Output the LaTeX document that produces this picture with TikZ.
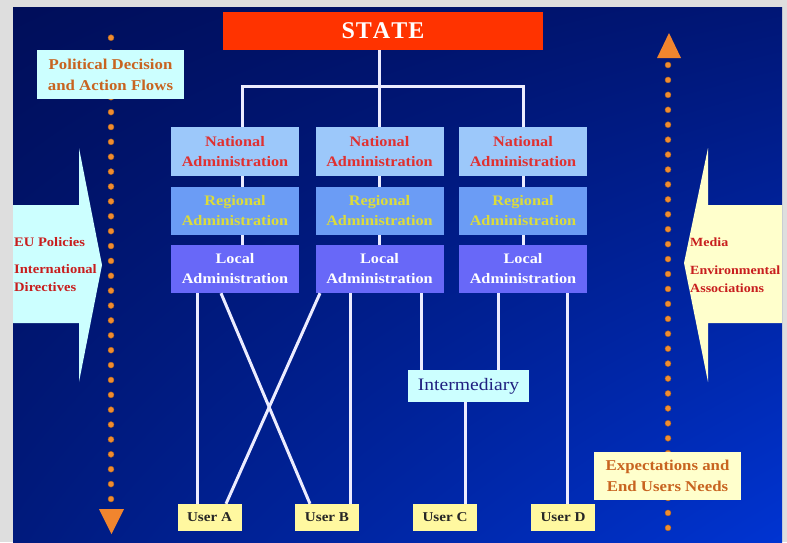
\documentclass[tikz,border=0pt]{standalone}
\usepackage{fontspec}
\setmainfont{Liberation Serif}[FakeStretch=1.12]
\newfontfamily\plainserif{Liberation Serif}
\usetikzlibrary{calc,shadings}
\definecolor{pagegray}{HTML}{DEDEDE}
\definecolor{bgUL}{RGB}{0,14,90}
\definecolor{bgUR}{RGB}{0,22,118}
\definecolor{bgLL}{RGB}{0,26,125}
\definecolor{bgLR}{RGB}{0,52,210}
\definecolor{statered}{HTML}{FF3300}
\definecolor{natfill}{HTML}{9CC8FA}
\definecolor{regfill}{HTML}{6B9CF5}
\definecolor{locfill}{HTML}{6868F8}
\definecolor{nattext}{HTML}{E03030}
\definecolor{regtext}{HTML}{DCDC3A}
\definecolor{cyanbox}{HTML}{CCFFFF}
\definecolor{creambox}{HTML}{FFFFCC}
\definecolor{userbox}{HTML}{FFF8A0}
\definecolor{browntext}{HTML}{C86420}
\definecolor{redtext}{HTML}{C81E1E}
\definecolor{intertext}{HTML}{202080}
\definecolor{dotorange}{HTML}{F08C30}
\definecolor{linewhite}{HTML}{ECECFF}
\begin{document}
\begin{tikzpicture}[x=1pt,y=-1pt,
  conn/.style={draw=linewhite, line width=3pt},
  boxbase/.style={inner sep=0pt, align=center},
  adm/.style={boxbase, minimum width=128pt, font=\bfseries\fontsize{14.5}{20}\selectfont},
  nat/.style={adm, fill=natfill, text=nattext, minimum height=49pt},
  reg/.style={adm, fill=regfill, text=regtext, minimum height=48pt},
  loc/.style={adm, fill=locfill, text=white, minimum height=48pt},
  user/.style={boxbase, fill=userbox, text=black!85, minimum width=64pt, minimum height=27pt, font=\bfseries\fontsize{13.5}{16}\selectfont},
  flowbox/.style={boxbase, text=browntext, minimum width=147pt, font=\bfseries\fontsize{15}{21}\selectfont},
  sidetext/.style={inner sep=0pt, align=left, text=redtext, font=\bfseries\fontsize{13}{18}\selectfont},
  dot/.style={fill=dotorange, draw=dotorange!70!black, line width=0.4pt},
  tri/.style={fill=dotorange!95!red}
]
\useasboundingbox (0,0) rectangle (787,542);
\fill[pagegray] (0,0) rectangle (787,542);
\shade[upper left=bgUL, upper right=bgUR, lower left=bgLL, lower right=bgLR] (13,7) rectangle (782,542);

% side arrows
\fill[cyanbox] (13,205) -- (79,205) -- (79,148) -- (102,265) -- (79,382) -- (79,323) -- (13,323) -- cycle;
\fill[creambox] (782,205) -- (708,205) -- (708,148) -- (684,263) -- (708,382) -- (708,323) -- (782,323) -- cycle;
\node[sidetext, anchor=west] (eu) at (14,242) {EU Policies};
\node[sidetext, anchor=west] (intl) at (14,278) {International\\Directives};
\node[sidetext, anchor=west, font=\bfseries\fontsize{12.5}{18}\selectfont] (media) at (690,242) {Media};
\node[sidetext, anchor=west, font=\bfseries\fontsize{12.5}{18}\selectfont] (env) at (690,279) {Environmental\\Associations};

% dotted flows
\foreach \i in {0,...,31} {
  \fill[dot] (111,{37.7+\i*14.88}) circle (3);
  \fill[dot] (668,{65+\i*14.93}) circle (3);
}
\fill[tri] (99,509) -- (124,509) -- (111.5,534) -- cycle;
\fill[tri] (657,58) -- (681,58) -- (669,33) -- cycle;

\node[flowbox, fill=cyanbox, minimum height=49pt] (pol) at (110.5,74.5) {Political Decision\\and Action Flows};
\node[flowbox, fill=creambox, minimum height=48pt] (exp) at (667.5,476) {Expectations and\\End Users Needs};

% state
\node[boxbase, fill=statered, text=white, minimum width=320pt, minimum height=38pt, font=\plainserif\bfseries\fontsize{24}{26}\selectfont] (state) at (383,31) {S\kern1ptT\kern1ptA\kern1ptT\kern1ptE};

% administration columns
\node[nat] (N1) at (235,151.5) {National\\Administration};
\node[nat] (N2) at (379.5,151.5) {National\\Administration};
\node[nat] (N3) at (523,151.5) {National\\Administration};
\node[reg] (R1) at (235,211) {Regional\\Administration};
\node[reg] (R2) at (379.5,211) {Regional\\Administration};
\node[reg] (R3) at (523,211) {Regional\\Administration};
\node[loc] (L1) at (235,269) {Local\\Administration};
\node[loc] (L2) at (379.5,269) {Local\\Administration};
\node[loc] (L3) at (523,269) {Local\\Administration};

\node[boxbase, fill=cyanbox, text=intertext, minimum width=121pt, minimum height=32pt, font=\fontsize{17.5}{20}\selectfont] (inter) at (468.5,386) {Intermediary};

\node[user] (UA) at (209.5,517.5) {User A};
\node[user] (UB) at (327,517.5) {User B};
\node[user] (UC) at (445,517.5) {User C};
\node[user] (UD) at (563,517.5) {User D};

% tree from state
\coordinate (hub) at (379,86);
\coordinate (hubL) at (242,86);
\coordinate (hubR) at (523,86);
\draw[conn] (hub |- state.south) -- (hub);
\draw[conn, line cap=rect] (hubL) -- (hubR);
\draw[conn] (hubL) -- (hubL |- N1.north);
\draw[conn] (hub) -- (hub |- N2.north);
\draw[conn] (hubR) -- (hubR |- N3.north);
\draw[conn] (hubL |- N1.south) -- (hubL |- R1.north);
\draw[conn] (hub |- N2.south) -- (hub |- R2.north);
\draw[conn] (hubR |- N3.south) -- (hubR |- R3.north);
\draw[conn] (hubL |- R1.south) -- (hubL |- L1.north);
\draw[conn] (hub |- R2.south) -- (hub |- L2.north);
\draw[conn] (hubR |- R3.south) -- (hubR |- L3.north);

% lower links
\coordinate (cA) at (197,0);
\coordinate (cX1) at (221,0);
\coordinate (cX1b) at (310,0);
\coordinate (cX2) at (320,0);
\coordinate (cX2b) at (226,0);
\coordinate (cB) at (350,0);
\coordinate (cI1) at (421,0);
\coordinate (cI2) at (498,0);
\coordinate (cD) at (567,0);
\coordinate (cC) at (465,0);
\draw[conn] (cA |- L1.south) -- (cA |- UA.north);
\draw[conn] (cX1 |- L1.south) -- (cX1b |- UB.north);
\draw[conn] (cX2 |- L2.south) -- (cX2b |- UA.north);
\draw[conn] (cB |- L2.south) -- (cB |- UB.north);
\draw[conn] (cI1 |- L2.south) -- (cI1 |- inter.north);
\draw[conn] (cI2 |- L3.south) -- (cI2 |- inter.north);
\draw[conn] (cD |- L3.south) -- (cD |- UD.north);
\draw[conn] (cC |- inter.south) -- (cC |- UC.north);
\end{tikzpicture}
\end{document}
